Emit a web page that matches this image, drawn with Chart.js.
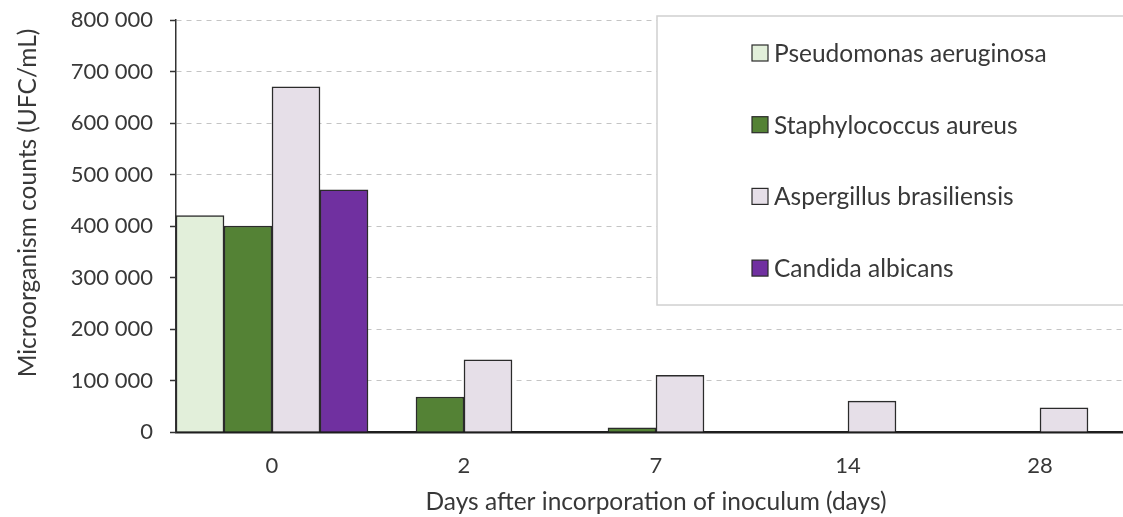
<!DOCTYPE html>
<html>
<head>
<meta charset="utf-8">
<script src="https://cdn.jsdelivr.net/npm/chart.js@4/dist/chart.umd.min.js"></script>
<style>
  html, body { margin: 0; padding: 0; background: #fff; overflow: hidden; }
  /* the plot runs a little past the right edge in the original, so the canvas is wider and clipped */
  #wrap { width: 1123px; height: 517px; overflow: hidden; }
</style>
</head>
<body>
<div id="wrap"><canvas id="countsChart" width="1136" height="517"></canvas></div>
<script>
const days = ['0', '2', '7', '14', '28'];
const pseudomonas = [420000, 0, 0, 0, 0];
const staphylococcus = [400000, 68000, 8000, 0, 0];
const aspergillus = [670000, 140000, 110000, 60000, 47000];
const candida = [470000, 0, 0, 0, 0];
const yTicks = [0, 100000, 200000, 300000, 400000, 500000, 600000, 700000, 800000];

const FONT = 'Lato, "Open Sans", sans-serif';
const TEXT = '#383838';

function spaced(v) {
    return String(v).replace(/\B(?=(\d{3})+(?!\d))/g, ' ');
}

// legend box sitting inside the plot, like the original
const boxLegend = {
    id: 'boxLegend',
    afterDraw(chart) {
        const ctx = chart.ctx;
        ctx.save();
        ctx.fillStyle = '#fff';
        ctx.strokeStyle = '#d0d0d0';
        ctx.lineWidth = 1.5;
        ctx.fillRect(657, 16, 490, 289);
        ctx.strokeRect(657, 16, 490, 289);
        ctx.font = '24.5px ' + FONT;
        ctx.textBaseline = 'middle';
        chart.data.datasets.forEach((ds, i) => {
            const y = 53 + i * 71.7;
            ctx.fillStyle = ds.backgroundColor;
            ctx.fillRect(752, y - 8, 16, 16);
            ctx.strokeStyle = '#2b2b2b';
            ctx.lineWidth = 1.2;
            ctx.strokeRect(752, y - 8, 16, 16);
            ctx.fillStyle = TEXT;
            ctx.fillText(ds.label, 774, y + 1);
        });
        ctx.restore();
    }
};

// y title drawn by hand so it sits where the original has it
const yTitle = {
    id: 'yTitle',
    afterDraw(chart) {
        const ctx = chart.ctx;
        ctx.save();
        ctx.translate(28, 203);
        ctx.rotate(-Math.PI / 2);
        ctx.font = '24.5px ' + FONT;
        ctx.fillStyle = TEXT;
        ctx.textAlign = 'center';
        ctx.textBaseline = 'middle';
        ctx.fillText('Microorganism counts (UFC/mL)', 0, 0);
        ctx.restore();
    }
};

const bar = { borderColor: '#2b2b2b', borderWidth: 1.5, barPercentage: 1, categoryPercentage: 1 };

new Chart(document.getElementById('countsChart'), {
    type: 'bar',
    data: {
        labels: days,
        datasets: [
            { label: 'Pseudomonas aeruginosa', data: pseudomonas, backgroundColor: '#e2efda', ...bar },
            { label: 'Staphylococcus aureus', data: staphylococcus, backgroundColor: '#548235', ...bar },
            { label: 'Aspergillus brasiliensis', data: aspergillus, backgroundColor: '#e6dfe8', ...bar },
            { label: 'Candida albicans', data: candida, backgroundColor: '#7030a0', ...bar }
        ]
    },
    options: {
        responsive: false,
        animation: false,
        layout: { padding: { top: 20, right: 0, left: 0, bottom: 0 } },
        plugins: {
            legend: { display: false },
            tooltip: { enabled: false }
        },
        scales: {
            x: {
                grid: { display: false },
                border: { display: true, color: '#1e1e1e', width: 2.5 },
                ticks: { color: TEXT, font: { family: FONT, size: 22 }, padding: 13 },
                title: {
                    display: true,
                    text: 'Days after incorporation of inoculum (days)',
                    color: TEXT,
                    font: { family: FONT, size: 24.5 },
                    padding: { top: 0, bottom: 0 }
                },
                afterFit: s => {
                    s.height = 85;
                    s.paddingLeft = 0;
                    s.paddingRight = 0;
                }
            },
            y: {
                min: 0,
                max: 800000,
                afterBuildTicks: s => { s.ticks = yTicks.map(v => ({ value: v })); },
                afterFit: s => {
                    s.width = 176;
                    s.paddingTop = 0;
                    s.paddingBottom = 0;
                },
                // v4: dash of the grid lines lives under border
                border: { display: true, color: '#333', width: 1.5, dash: [5, 5] },
                grid: {
                    color: c => c.tick && c.tick.value === 0 ? 'rgba(0,0,0,0)' : '#c4c4c4',
                    lineWidth: 1,
                    tickColor: '#333',
                    tickBorderDash: [],
                    tickWidth: 1.5,
                    tickLength: 6
                },
                ticks: {
                    color: TEXT,
                    font: { family: FONT, size: 22 },
                    padding: 17,
                    callback: v => spaced(v)
                }
            }
        }
    },
    plugins: [boxLegend, yTitle]
});
</script>
</body>
</html>
